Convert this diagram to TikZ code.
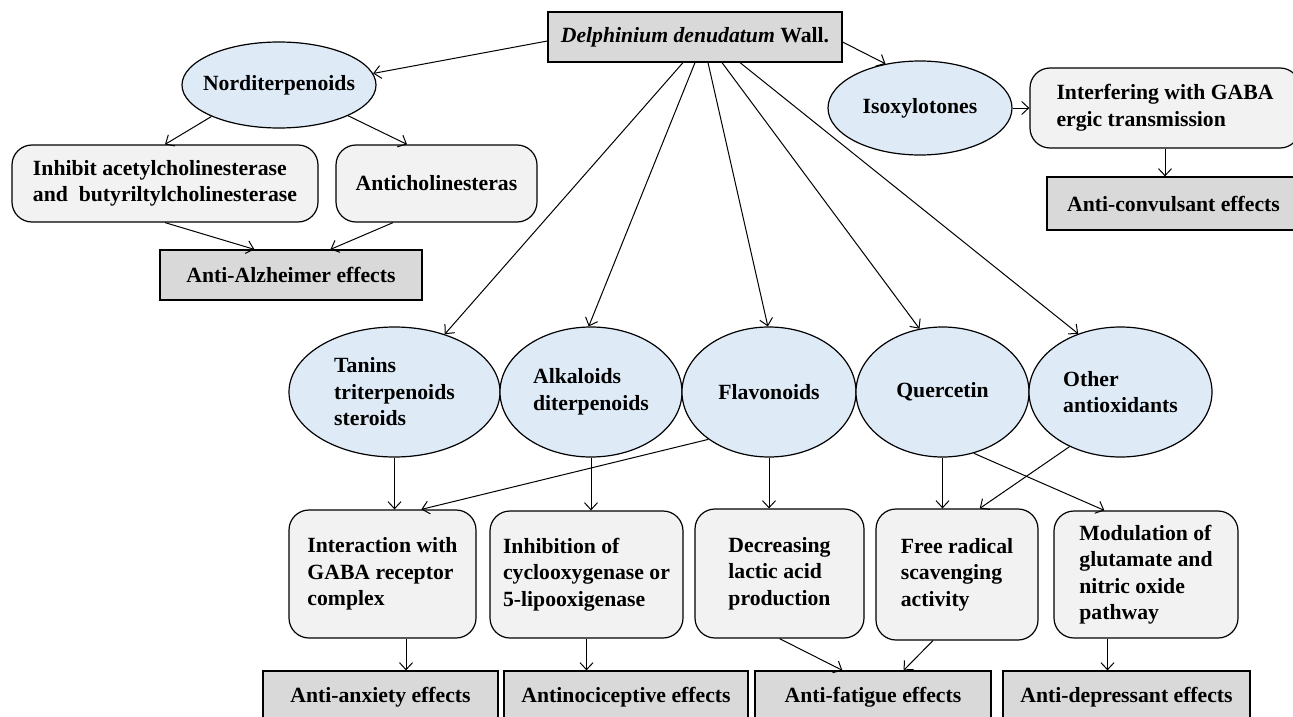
\documentclass[tikz,border=0pt]{standalone}
\usepackage{fontspec}
\setmainfont{Liberation Serif}
\usetikzlibrary{arrows.meta}
\usetikzlibrary{shapes.geometric}
\usetikzlibrary{calc}
\definecolor{lblue}{HTML}{DEEBF7}
\definecolor{lgray}{HTML}{F2F2F2}
\definecolor{mgray}{HTML}{D9D9D9}
\tikzset{arr/.style = {-{Straight Barb[length=7pt, width=13pt]}, line width=1pt}}
\tikzset{blob/.style = {draw, ellipse, fill=lblue, inner sep=0, align=left, line width=1.2pt}}
\tikzset{proc/.style = {draw, rounded corners=20pt, fill=lgray, align=left, line width=1.2pt}}
\tikzset{effect/.style = {draw, fill=mgray, line width=1.2pt}}

\begin{document}
\begin{tikzpicture}[x=1pt, y=-1pt, font=\fontsize{21.7}{26.5}\selectfont\bfseries]
      \useasboundingbox (0, 0) rectangle (1293, 717);
      \clip (0, 0) rectangle (1293, 717);

      \node [effect, minimum width=294, minimum height=50] (top) at (695, 37) {{\itshape Delphinium denudatum} Wall.};

      % left branch
      \node [blob, inner xsep=-10pt, minimum width=194, minimum height=86] (nordi) at (279, 85) {Norditerpenoids};
      \node [proc, minimum width=306, minimum height=77] (inhibit) at (165, 183.5) {Inhibit acetylcholinesterase\\and~~butyriltylcholinesterase};
      \node [proc, minimum width=201, minimum height=77] (anticho) at (436.5, 183.5) {Anticholinesteras};
      \node [effect, minimum width=262, minimum height=50] (alz) at (291, 275) {Anti-Alzheimer effects};

      % right branch
      \node [blob, minimum width=184, minimum height=94] (isox) at (920, 108) {Isoxylotones};
      \node [proc, minimum width=270, minimum height=80] (interf) at (1165, 108) {Interfering with GABA\\ergic transmission};
      \node [effect, minimum width=253, minimum height=53] (conv) at (1173.5, 203.5) {Anti-convulsant effects};

      % middle row
      \node [blob, minimum width=211, minimum height=130] (tanins) at (394.5, 392) {Tanins\\triterpenoids\\steroids};
      \node [blob, minimum width=182, minimum height=130] (alk) at (591, 392) {Alkaloids\\diterpenoids};
      \node [blob, minimum width=174, minimum height=130] (flav) at (769, 392) {Flavonoids};
      \node [blob, minimum width=173, minimum height=130] (quer) at (942.5, 392) {Quercetin};
      \node [blob, minimum width=183, minimum height=130] (other) at (1120.5, 392) {Other\\antioxidants};

      \node [proc, minimum width=187, minimum height=128] (inter) at (382.5, 574) {Interaction with\\GABA receptor\\complex};
      \node [proc, minimum width=193, minimum height=127] (inhib) at (586.5, 574.5) {Inhibition of\\cyclooxygenase or\\5-lipooxigenase};
      \node [proc, minimum width=169, minimum height=129] (decr) at (779.5, 573.5) {Decreasing\\lactic acid\\production};
      \node [proc, minimum width=162, minimum height=131] (free) at (957, 574.5) {Free radical\\scavenging\\activity};
      \node [proc, minimum width=184, minimum height=127] (modu) at (1146, 574.5) {Modulation of\\glutamate and\\nitric oxide\\pathway};

      \node [effect, minimum width=235, minimum height=52] (anx) at (380.5, 697) {Anti-anxiety effects};
      \node [effect, minimum width=244, minimum height=52] (noci) at (626, 697) {Antinociceptive effects};
      \node [effect, minimum width=236, minimum height=52] (fat) at (873, 697) {Anti-fatigue effects};
      \node [effect, minimum width=247, minimum height=52] (dep) at (1126.5, 697) {Anti-depressant effects};

      % connectors
      \draw [arr] ($(top.west)+(0, 4)$) -- (nordi.7);
      \draw [arr] ($(top.east)+(0, 5)$) -- (isox.128);
      \foreach \dx/\dest in {-12/tanins.49, 0/alk.92, 13/flav.91, 27/quer.110, 45/other.126}
        \draw [arr] ($(top.south)+(\dx, 0)$) -- (\dest);

      \draw [arr] (nordi.205) -- (inhibit.north);
      \draw [arr] (nordi.336) -- (anticho.127);
      \draw [arr] (inhibit.south) -- (alz.145);
      \draw [arr] (anticho.222) -- (alz.33);

      \draw [arr] (isox) -- (interf);
      \draw [arr] (interf.south) -- (interf.south |- conv.north);

      \draw [arr] (tanins.south) -- (tanins.south |- inter.north);
      \draw [arr] (flav.218) -- (inter.59);
      \draw [arr] (alk.south) -- (alk.south |- inhib.north);
      \draw [arr] (flav.south) -- (flav.south |- decr.north);
      \draw [arr] (quer.south) -- (quer.south |- free.north);
      \draw [arr] (other.227) -- (free.71);
      \draw [arr] (quer.297) -- (modu.123);

      \draw [arr] (inter.290) -- (inter.290 |- anx.north);
      \draw [arr] (inhib.south) -- (inhib.south |- noci.north);
      \draw [arr] (decr.south) -- (fat.139);
      \draw [arr] (free.250) -- (fat.41);
      \draw [arr] (modu.239) -- (modu.239 |- dep.north);
    \end{tikzpicture}
\end{document}
